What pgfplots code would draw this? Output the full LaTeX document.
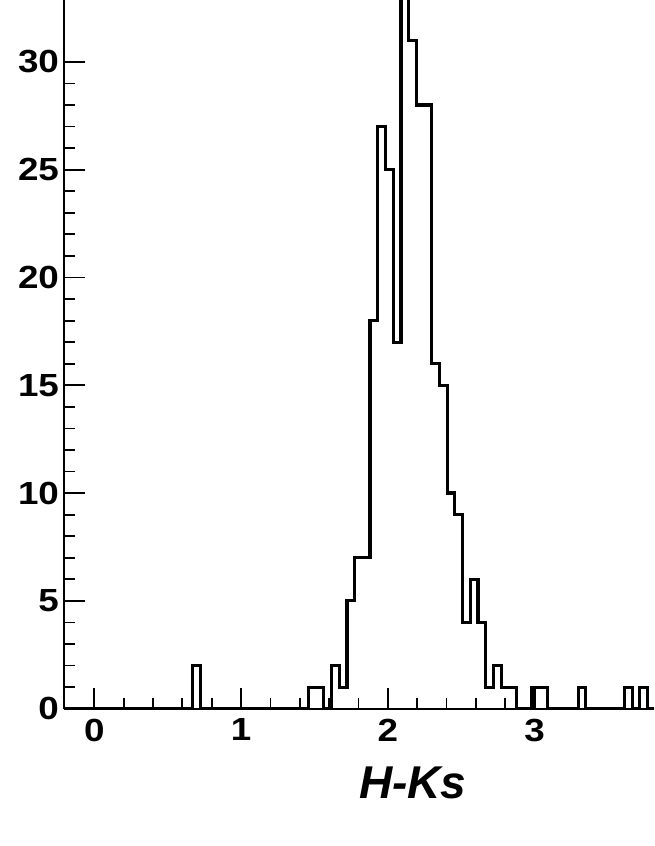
\documentclass[border=0pt]{standalone}
\usepackage{fontspec}
\setmainfont{Liberation Sans}
\newfontfamily\tickfont[FakeStretch=1.15]{Liberation Sans}
\usepackage{pgfplots}
\pgfplotsset{compat=1.18}
\begin{document}
\begin{tikzpicture}
\begin{axis}[
  scale only axis,
  width=295pt, height=354.35pt,
  xmin=-0.206, xmax=3.813, ymin=0, ymax=32.87,
  axis x line*=bottom, axis y line*=left,
  axis line style={-, line width=1.1pt, black},
  tick align=inside,
  xtick={0,1,2,3}, ytick={0,5,10,15,20,25,30},
  minor tick num=4,
  major tick length=10.5pt, minor tick length=5.5pt,
  every tick/.style={line width=0.9pt, black},
  /pgf/number format/assume math mode=true,
  ticklabel style={font=\tickfont\bfseries\fontsize{16}{19}\selectfont},
  xticklabel style={yshift=-1.5pt},
  yticklabel style={xshift=1pt},
  xlabel={\bfseries\itshape H-Ks},
  xlabel style={font=\fontsize{23}{27}\selectfont, at={(axis description cs:0.591,0)}, anchor=center, yshift=-37pt},
  clip=true,
]
\addplot[const plot mark left, line width=1.6pt, black, mark=none] coordinates {
(-0.221,0) (0.6715,2) (0.724,0) (1.459,1) (1.564,0) (1.6165,2) (1.669,1)
(1.7215,5) (1.774,7) (1.879,18) (1.9315,27) (1.984,25) (2.0365,17) (2.089,36)
(2.1415,31) (2.194,28) (2.299,16) (2.3515,15) (2.404,10) (2.4565,9) (2.509,4)
(2.5615,6) (2.614,4) (2.6665,1) (2.719,2) (2.7715,1) (2.8765,0) (2.9815,1)
(3.0865,0) (3.2965,1) (3.349,0) (3.6115,1) (3.664,0) (3.7165,1) (3.769,0) (3.95,0)
};
\end{axis}
\pgfresetboundingbox
\useasboundingbox (current axis.south west) ++(-32pt,-68.65pt) rectangle (current axis.north east);
\end{tikzpicture}
\end{document}
